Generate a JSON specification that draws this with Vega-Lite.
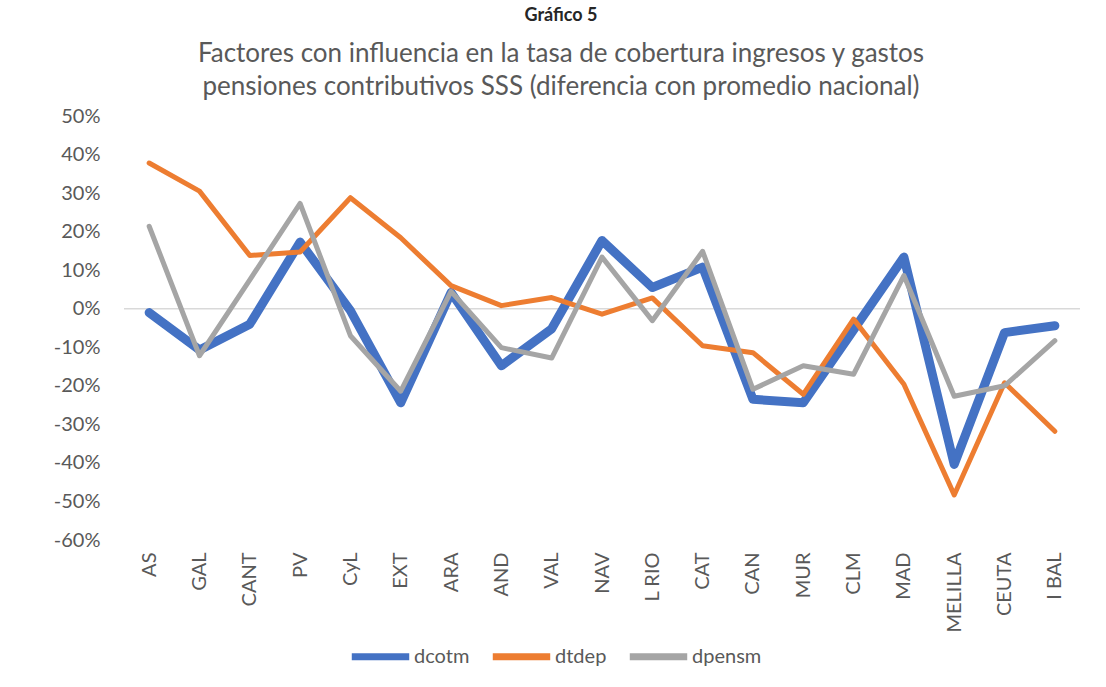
{
  "$schema": "https://vega.github.io/schema/vega-lite/v6.json",
  "width": 956,
  "height": 424,
  "autosize": {"type": "none"},
  "padding": {"left": 124, "top": 116, "right": 26, "bottom": 147},
  "background": "white",
  "config": {
    "view": {"stroke": null},
    "font": "Lato"
  },
  "title": {
    "text": "Gráfico 5",
    "subtitle": ["Factores con influencia en la tasa de cobertura ingresos y gastos", "pensiones contributivos SSS (diferencia con promedio nacional)"],
    "anchor": "middle",
    "dx": -41,
    "offset": 6,
    "font": "Lato",
    "fontSize": 18,
    "fontWeight": "bold",
    "color": "#262626",
    "subtitleFont": "Lato",
    "subtitleFontSize": 26,
    "subtitleColor": "#595959",
    "subtitleLineHeight": 33,
    "subtitlePadding": 16
  },
  "data": {
    "values": [
      {"region": "AS", "serie": "dcotm", "valor": -0.010},
      {"region": "GAL", "serie": "dcotm", "valor": -0.107},
      {"region": "CANT", "serie": "dcotm", "valor": -0.040},
      {"region": "PV", "serie": "dcotm", "valor": 0.173},
      {"region": "CyL", "serie": "dcotm", "valor": -0.005},
      {"region": "EXT", "serie": "dcotm", "valor": -0.244},
      {"region": "ARA", "serie": "dcotm", "valor": 0.042},
      {"region": "AND", "serie": "dcotm", "valor": -0.148},
      {"region": "VAL", "serie": "dcotm", "valor": -0.052},
      {"region": "NAV", "serie": "dcotm", "valor": 0.177},
      {"region": "L RIO", "serie": "dcotm", "valor": 0.055},
      {"region": "CAT", "serie": "dcotm", "valor": 0.108},
      {"region": "CAN", "serie": "dcotm", "valor": -0.235},
      {"region": "MUR", "serie": "dcotm", "valor": -0.244},
      {"region": "CLM", "serie": "dcotm", "valor": -0.055},
      {"region": "MAD", "serie": "dcotm", "valor": 0.134},
      {"region": "MELILLA", "serie": "dcotm", "valor": -0.404},
      {"region": "CEUTA", "serie": "dcotm", "valor": -0.062},
      {"region": "I BAL", "serie": "dcotm", "valor": -0.044},
      {"region": "AS", "serie": "dtdep", "valor": 0.378},
      {"region": "GAL", "serie": "dtdep", "valor": 0.305},
      {"region": "CANT", "serie": "dtdep", "valor": 0.138},
      {"region": "PV", "serie": "dtdep", "valor": 0.147},
      {"region": "CyL", "serie": "dtdep", "valor": 0.288},
      {"region": "EXT", "serie": "dtdep", "valor": 0.184},
      {"region": "ARA", "serie": "dtdep", "valor": 0.060},
      {"region": "AND", "serie": "dtdep", "valor": 0.008},
      {"region": "VAL", "serie": "dtdep", "valor": 0.029},
      {"region": "NAV", "serie": "dtdep", "valor": -0.014},
      {"region": "L RIO", "serie": "dtdep", "valor": 0.028},
      {"region": "CAT", "serie": "dtdep", "valor": -0.096},
      {"region": "CAN", "serie": "dtdep", "valor": -0.114},
      {"region": "MUR", "serie": "dtdep", "valor": -0.222},
      {"region": "CLM", "serie": "dtdep", "valor": -0.027},
      {"region": "MAD", "serie": "dtdep", "valor": -0.196},
      {"region": "MELILLA", "serie": "dtdep", "valor": -0.483},
      {"region": "CEUTA", "serie": "dtdep", "valor": -0.192},
      {"region": "I BAL", "serie": "dtdep", "valor": -0.318},
      {"region": "AS", "serie": "dpensm", "valor": 0.214},
      {"region": "GAL", "serie": "dpensm", "valor": -0.122},
      {"region": "CANT", "serie": "dpensm", "valor": 0.075},
      {"region": "PV", "serie": "dpensm", "valor": 0.273},
      {"region": "CyL", "serie": "dpensm", "valor": -0.070},
      {"region": "EXT", "serie": "dpensm", "valor": -0.214},
      {"region": "ARA", "serie": "dpensm", "valor": 0.045},
      {"region": "AND", "serie": "dpensm", "valor": -0.101},
      {"region": "VAL", "serie": "dpensm", "valor": -0.128},
      {"region": "NAV", "serie": "dpensm", "valor": 0.134},
      {"region": "L RIO", "serie": "dpensm", "valor": -0.031},
      {"region": "CAT", "serie": "dpensm", "valor": 0.149},
      {"region": "CAN", "serie": "dpensm", "valor": -0.209},
      {"region": "MUR", "serie": "dpensm", "valor": -0.148},
      {"region": "CLM", "serie": "dpensm", "valor": -0.170},
      {"region": "MAD", "serie": "dpensm", "valor": 0.086},
      {"region": "MELILLA", "serie": "dpensm", "valor": -0.227},
      {"region": "CEUTA", "serie": "dpensm", "valor": -0.200},
      {"region": "I BAL", "serie": "dpensm", "valor": -0.083}
    ]
  },
  "encoding": {
    "x": {
      "field": "region",
      "type": "nominal",
      "sort": null,
      "scale": {"type": "point", "padding": 0.5},
      "axis": {
        "title": null,
        "labelAngle": -90,
        "labelFontSize": 20,
        "labelColor": "#595959",
        "labelFont": "Lato",
        "ticks": false,
        "domain": false,
        "labelPadding": 12
      }
    },
    "y": {
      "field": "valor",
      "type": "quantitative",
      "scale": {"domain": [-0.6, 0.5], "nice": false, "zero": false},
      "axis": {
        "title": null,
        "format": ".0%",
        "labelExpr": "replace(datum.label, '\u2212', '-')",
        "values": [-0.6, -0.5, -0.4, -0.3, -0.2, -0.1, 0, 0.1, 0.2, 0.3, 0.4, 0.5],
        "labelOverlap": false,
        "grid": false,
        "ticks": false,
        "domain": false,
        "labelFontSize": 20,
        "labelColor": "#595959",
        "labelFont": "Lato",
        "labelPadding": 24
      }
    },
    "color": {
      "field": "serie",
      "type": "nominal",
      "sort": ["dcotm", "dtdep", "dpensm"],
      "scale": {"domain": ["dcotm", "dtdep", "dpensm"], "range": ["#4472C4", "#ED7D31", "#A5A5A5"]},
      "legend": {
        "title": null,
        "orient": "none",
        "direction": "horizontal",
        "legendX": 224,
        "legendY": 508,
        "symbolType": "stroke",
        "symbolSize": 3300,
        "symbolStrokeWidth": 7,
        "labelFontSize": 20,
        "labelColor": "#595959",
        "labelFont": "Lato",
        "labelOffset": 1,
        "columnPadding": 8
      }
    }
  },
  "layer": [
    {
      "data": {"values": [{"cero": 0}]},
      "mark": {"type": "rule", "color": "#D9D9D9", "strokeWidth": 1.5},
      "encoding": {
        "x": null,
        "color": null,
        "y": {"field": "cero", "type": "quantitative"}
      }
    },
    {
      "transform": [{"filter": "datum.serie === 'dcotm'"}],
      "mark": {"type": "line", "strokeWidth": 9, "strokeCap": "round", "strokeJoin": "round"}
    },
    {
      "transform": [{"filter": "datum.serie === 'dtdep'"}],
      "mark": {"type": "line", "strokeWidth": 5, "strokeCap": "round", "strokeJoin": "round"}
    },
    {
      "transform": [{"filter": "datum.serie === 'dpensm'"}],
      "mark": {"type": "line", "strokeWidth": 5, "strokeCap": "round", "strokeJoin": "round"}
    }
  ]
}
